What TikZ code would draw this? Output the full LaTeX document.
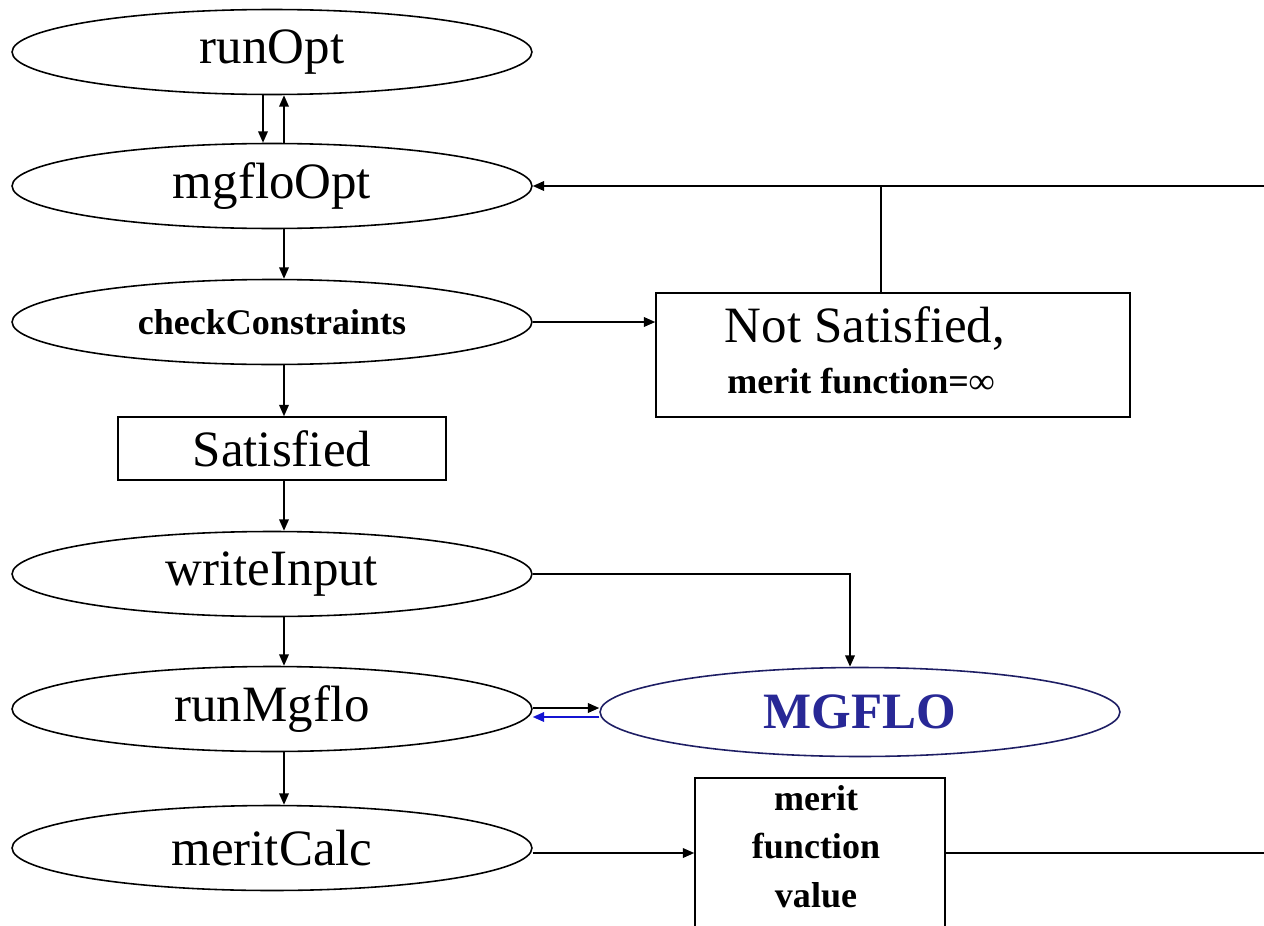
\documentclass[tikz,border=0pt]{standalone}
\usepackage{fontspec}
\setmainfont{Liberation Serif}
\usetikzlibrary{shapes.geometric,arrows.meta}
\definecolor{mgblue}{RGB}{40,40,150}
\definecolor{mgline}{RGB}{30,30,100}
\definecolor{arrblue}{RGB}{20,20,210}
\begin{document}
\begin{tikzpicture}[x=0.02cm,y=-0.02cm,
  line width=0.9pt,
  proc/.style={ellipse,draw,minimum width=10.4cm,minimum height=1.7cm,inner sep=0pt,font=\fontsize{29}{34}\selectfont},
  procb/.style={proc,font=\bfseries\fontsize{20.5}{24}\selectfont},
  boxn/.style={rectangle,draw,inner sep=0pt},
  bigtxt/.style={inner sep=0pt,font=\fontsize{29}{34}\selectfont},
  smalltxt/.style={inner sep=0pt,font=\bfseries\fontsize{20.5}{24}\selectfont},
  arr/.style={-{Triangle[length=6.5pt,width=5.5pt]}}]
\path[use as bounding box,fill=white] (0,0) rectangle (1264,926);
\clip (0,0) rectangle (1264,926);

% left column
\node[proc]  (runOpt)   at (272,52)  {runOpt};
\node[proc]  (mgfloOpt) at (272,186) {mgfloOpt};
\node[procb] (cc)       at (272,322) {checkConstraints};
\node[boxn,minimum width=6.56cm,minimum height=1.26cm,font=\fontsize{29}{34}\selectfont] (sat) at (282,448.5) {Satisfied};
\node[proc]  (wi)       at (272,574) {writeInput};
\node[proc]  (rm)       at (272,709) {runMgflo};
\node[proc]  (mc)       at (272,848) {meritCalc};

% right side
\node[ellipse,draw=mgline,text=mgblue,minimum width=10.4cm,minimum height=1.78cm,inner sep=0pt,font=\bfseries\fontsize{29}{34}\selectfont] (mgflo) at (860,712) {MGFLO};
\node[boxn,minimum width=9.48cm,minimum height=2.48cm] (ns) at (893,355) {};
\node[bigtxt,anchor=base] (nsA) at (865,342) {Not Satisfied,};
\node[smalltxt,anchor=base] (nsB) at (861,393) {merit function=∞};
\node[boxn,minimum width=5cm,minimum height=3cm] (mfv) at (820,853) {};
\node[smalltxt,anchor=base] (mfvA) at (816,810) {merit};
\node[smalltxt,anchor=base] (mfvB) at (816,858) {function};
\node[smalltxt,anchor=base] (mfvC) at (816,907) {value};

\coordinate (offR) at (1290,853);

% connectors
\draw[arr] ([xshift=-0.18cm]runOpt.south) -- ([xshift=-0.18cm]runOpt.south |- mgfloOpt.north);
\draw[arr] ([xshift=0.24cm]mgfloOpt.north) -- ([xshift=0.24cm]mgfloOpt.north |- runOpt.south);
\draw[arr] ([xshift=0.24cm]mgfloOpt.south) -- ([xshift=0.24cm]mgfloOpt.south |- cc.north);
\draw[arr] ([xshift=0.24cm]cc.south) -- ([xshift=0.24cm]cc.south |- sat.north);
\draw[arr] ([xshift=0.24cm]cc.south |- sat.south) -- ([xshift=0.24cm]cc.south |- wi.north);
\draw[arr] ([xshift=0.24cm]wi.south) -- ([xshift=0.24cm]wi.south |- rm.north);
\draw[arr] ([xshift=0.24cm]rm.south) -- ([xshift=0.24cm]rm.south |- mc.north);

\draw[arr] (cc.east) -- (cc.east -| ns.west);
\draw ([xshift=-0.24cm]ns.north) -- ([xshift=-0.24cm]ns.north |- mgfloOpt.east);
\draw[arr] (wi.east) -| ([xshift=-0.2cm]mgflo.north);
\draw[arr] ([yshift=0.02cm]rm.east) -- ([yshift=0.02cm]rm.east -| mgflo.west);
\draw[arr,draw=arrblue,fill=arrblue] ([yshift=-0.16cm]rm.east -| mgflo.west) -- ([yshift=-0.16cm]rm.east);
\draw[arr] (mfv.west -| mc.east) -- (mfv.west);
\draw[arr] (mfv.east) -- (offR) |- (mgfloOpt.east);
\end{tikzpicture}
\end{document}
